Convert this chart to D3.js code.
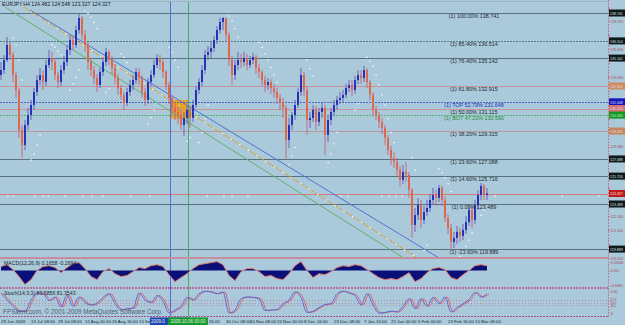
<!DOCTYPE html>
<html><head><meta charset="utf-8">
<script src="https://cdn.jsdelivr.net/npm/d3@7"></script>
<style>html,body{margin:0;padding:0;background:#aacadb;overflow:hidden}svg{display:block;font-family:"Liberation Sans",Arial,sans-serif}</style>
</head><body><svg id="c" width="625" height="325"></svg>
<script>
// ---------- DATA ----------
const symbolHeader = "EURJPY,H4  124.482 124.548 123.327 124.327";
const firstOpen = 133.79;
const closes = [134.19,134.99,136.19,135.39,133.79,132.59,129.40,128.20,129.80,130.60,
131.40,132.43,133.39,133.79,133.23,134.59,135.15,134.83,133.79,133.23,
134.19,134.83,135.79,136.59,136.19,137.38,138.34,136.99,136.19,134.83,
134.19,133.55,132.99,134.03,134.83,135.63,134.99,134.35,133.55,132.75,
132.20,131.56,132.43,132.99,133.39,134.03,133.55,132.43,131.80,133.23,
133.79,134.59,135.15,134.83,134.03,132.99,131.96,131.16,130.84,130.60,
129.80,130.36,131.00,130.36,131.40,132.59,133.23,134.19,135.39,135.63,
135.95,136.59,137.38,138.02,138.34,136.99,134.99,133.79,134.59,134.99,
134.83,135.15,134.59,134.99,135.23,134.35,134.03,133.39,132.99,133.23,
132.75,132.43,131.96,131.64,131.16,128.60,129.80,130.60,131.40,132.43,
133.79,132.59,130.20,130.36,131.00,130.04,130.84,131.16,129.00,130.20,
130.84,131.40,131.80,131.96,132.20,132.75,132.99,132.59,133.39,133.79,
133.55,134.19,133.23,132.20,131.00,130.60,130.04,129.56,128.76,127.80,
127.17,126.85,126.21,125.41,126.05,125.81,124.61,121.82,122.61,123.41,
122.21,122.85,123.17,123.81,124.21,123.97,124.77,123.81,122.37,121.58,
120.46,120.78,121.26,120.94,121.42,122.05,123.01,122.21,123.41,124.21,
124.93,124.21,124.327];
const highs = [134.83,135.39,136.83,136.43,135.63,134.03,132.75,129.80,130.20,131.16,
131.80,132.75,133.79,134.35,134.19,134.99,135.79,135.63,135.15,134.03,
134.59,135.31,136.19,136.99,136.91,137.70,138.66,138.50,137.38,136.43,
135.15,134.51,133.87,134.35,135.15,135.95,135.79,135.31,134.67,133.87,
132.99,132.43,132.75,133.39,133.79,134.35,134.35,133.79,132.75,133.55,
134.19,134.99,135.47,135.39,134.99,134.19,133.23,132.20,131.48,131.32,
131.00,130.84,131.32,131.40,131.80,132.91,133.55,134.59,135.79,136.11,
136.43,136.91,137.70,138.34,138.42,138.18,137.22,135.31,134.99,135.63,
135.47,135.63,135.47,135.31,135.55,135.39,134.67,134.19,133.71,133.55,
133.47,133.07,132.75,132.27,131.96,131.40,130.36,130.84,131.80,132.75,
134.35,134.03,132.91,130.84,131.40,131.32,131.16,131.64,131.40,130.60,
131.16,131.80,132.12,132.43,132.59,133.07,133.39,133.39,133.71,134.19,
134.19,134.51,134.35,133.39,132.43,131.32,130.84,130.36,129.80,129.00,
128.12,127.64,127.17,126.53,126.61,126.85,126.05,124.77,123.17,123.97,
123.81,123.33,123.81,124.29,124.77,124.61,125.01,124.93,124.13,122.69,
121.90,121.26,121.74,121.58,121.90,122.53,123.49,123.33,123.81,124.61,
125.17,125.09,124.77];
const lows = [133.39,133.87,134.83,134.99,133.23,131.96,128.76,127.17,127.80,129.40,
130.20,131.00,132.12,132.99,132.59,132.91,134.35,134.19,133.39,132.75,
132.91,133.87,134.51,135.39,135.79,135.95,137.07,136.59,135.63,134.19,
133.71,133.07,132.43,132.75,133.71,134.51,134.59,133.87,133.07,132.20,
131.80,131.00,131.32,132.12,132.59,133.07,132.99,131.96,131.32,131.48,
132.91,133.55,134.35,134.19,133.55,132.59,131.48,130.68,130.20,129.88,
129.40,128.92,129.88,129.56,130.04,131.16,132.27,132.91,133.87,134.99,
135.15,135.63,136.27,137.07,137.38,136.43,134.51,132.99,133.39,134.19,
134.35,134.51,134.19,134.35,134.67,133.87,133.55,132.91,132.43,132.59,
132.27,131.96,131.48,131.00,130.36,127.01,127.96,129.40,130.20,131.16,
132.12,132.12,129.00,129.56,130.04,129.40,129.72,130.36,127.40,128.44,
129.80,130.52,131.00,131.48,131.64,131.96,132.43,132.12,132.27,133.07,
133.07,133.23,132.75,131.80,130.52,130.20,129.56,129.08,128.20,127.40,
126.61,126.37,125.73,124.85,125.09,125.25,123.97,120.78,121.26,122.21,
121.58,121.90,122.53,122.85,123.41,123.33,123.65,123.33,122.05,121.10,
119.82,119.98,120.30,120.46,120.62,121.10,121.74,121.58,121.90,123.01,
123.81,123.81,123.81];

// Fibonacci levels
const fibNames = ["(1) 100.00%","(1) 85.40%","(1) 76.40%","(1) 61.80%","(1) TOP 52.79%","(1) 50.00%","(1) BOT 47.21%","(1) 38.20%","(1) 23.60%","(1) 14.60%","(1) 0.00%","(1) -23.60%"];
const fibPrices = [138.741,136.514,135.142,132.915,131.648,131.115,130.590,129.315,127.088,125.716,123.489,119.889];
const fibKinds = ["dark","darkDot","dark","rose","top","rose","bot","rose2","dark","dark","dark","dark"];
const currentPrice = 124.327;

// right price axis tick labels
const priceTicks = [139.18,138.07,136.96,135.85,134.74,133.63,132.52,131.41,130.30,129.19,128.08,126.97,125.86,124.75,123.64,122.53,121.42,120.31,119.20];

// time axis (partially hidden labels keep only their visible part)
const timeLabels = ["29 Jun 2009","13 Jul 08:00","28 Jul 08:00","12 Aug 00:00","26 Aug 16:00","10 Se","16:00","30 Oct 08:00","10 Nov 08:00","24 Nov 00:00","8 Dec 16:00","23 Dec 08:00","7 Jan 16:00","22 Jan 00:00","5 Feb 00:00","23 Feb 16:00","10 Mar 08:00"];
const timeIdx = [0,10,19,28,37,46,69.3,75,83,92,101,111,121,130,139,149,158];

// vertical lines (bar index) and their labels
const vLineIdx = [56.3,62.3];
const vLineLabels = ["2009.0","2009.10.06 00:00"];

// consolidation box
const boxIdx = [56.3,62.3];
const boxPrices = [131.80,130.30];

// trend lines (start/end in bar index & price)
const tlStartIdx = [1.33,7,9.67];
const tlStartVal = [139.22,139.30,138.98];
const tlEndIdx = [140,140,150];
const tlEndVal = [118.30,119.00,118.60];
const tlNames = ["green","orange","blue"];

// parabolic SAR style dots
const sarIdx = [4,5,6,7,10,11,12,13,17,18,19,20,23,24,25,26,28,29,30,31,32,35,36,40,41,42,49,50,51,56,57,58,59,62,63,66,67,68,69,76,77,78,79,86,87,88,89,90,91,92,96,97,98,102,103,104,109,110,111,112,118,119,122,123,124,125,126,127,128,129,130,131,137,138,141,142,146,147,148,149,150,153,154,155,156,157,160,161];
const sarVal = [136.75,136.19,134.99,133.39,127.01,127.50,128.20,129.00,136.20,136.00,135.70,135.40,132.60,133.10,133.60,134.20,138.90,138.70,138.40,138.00,137.50,132.40,132.70,135.50,135.20,134.80,129.90,130.40,131.00,136.00,135.60,135.00,134.40,128.50,128.80,128.40,129.20,130.30,131.40,138.50,138.10,137.50,136.80,136.40,136.00,135.50,135.00,134.40,133.80,133.20,126.60,127.30,128.00,135.00,134.30,133.70,126.80,127.50,128.30,129.20,131.00,131.50,135.20,134.90,134.50,133.80,133.00,132.20,131.40,130.30,129.20,128.40,127.20,126.20,119.80,120.20,126.30,126.00,125.60,125.10,124.50,119.30,119.70,120.10,120.60,121.20,122.60,123.00];
const dotRowIdx = [2.3,4,11.3,14,15.7,21.3,27.3,30.3,34,43.3,49.7,68.7,74.3,77,82.3,113.3,115.7,127,129.3,131.7,133.7,164.7,187,199.3];
const dotRowVal = 124.13;

// MACD (every 2nd bar)
const macdHeader = "MACD(12,26,9) 0.1658 -0.2694";
const macd = [0.20,0.29,0.05,-0.29,-0.68,-0.44,0.00,0.20,0.24,0.15,
-0.10,0.15,0.34,0.39,0.10,-0.29,-0.44,-0.05,0.10,-0.15,
-0.29,-0.24,-0.05,0.15,0.10,0.24,0.29,0.20,-0.20,-0.54,
-0.34,-0.15,0.10,0.29,0.34,0.39,0.44,0.29,-0.24,-0.49,
-0.05,0.10,0.10,-0.05,-0.29,-0.24,-0.39,-0.44,-0.15,0.24,
0.44,0.00,-0.34,-0.15,-0.20,-0.05,0.15,0.24,0.20,0.29,
0.24,0.05,-0.15,-0.34,-0.44,-0.39,-0.44,-0.29,-0.10,-0.54,
-0.39,-0.10,0.10,0.15,0.05,-0.34,-0.44,-0.20,0.00,0.24,
0.29,0.24];
const macdMax = 0.5666, macdMin = -0.8481;

// Stochastic (every 2nd bar)
const stochHeader = "Stoch(14,3,3) 83.5856 81.3543";
const stoch = [88,60,35,15,14,60,88,85,58,72,
32,80,35,72,50,40,48,70,85,45,
20,25,28,88,60,50,78,55,8,20,
35,70,60,85,95,92,85,92,8,20,
65,72,70,65,18,20,22,45,60,92,
70,10,15,30,42,45,85,95,88,78,
40,85,40,8,10,15,12,35,65,25,
65,35,70,45,72,12,30,45,62,90,
72,85];
const stochLevels = [61.8,50.0,38.2];
const copyright = "FPSilent.com, \u00a9 2001-2009 MetaQuotes Software Corp.";

// ---------- DRAW ----------
const svg = d3.select("#c");
const R = 608;
const mainTop = 2, mainBot = 258, macdTop = 259, macdBot = 288, stTop = 289, stBot = 316;
const AX_FS = "4.3px";
const col = {bg:"#aacadb", up:"#2434b8", down:"#e0684a", axisTxt:"#a24a5a", sep:"#c58d9e"};

const x = d3.scaleLinear().domain([0, closes.length-1]).range([1, 487]);
const y = d3.scaleLinear().domain([123.489, 138.741]).range([204, 13]);

function axText(sel, t, xx, yy, fill, fs){
  const el = sel.append("text").attr("x",xx).attr("y",yy).attr("font-size",fs||AX_FS).attr("fill",fill).text(t);
  if(t.length>=6) el.attr("textLength",12.8).attr("lengthAdjust","spacingAndGlyphs");
  return el;
}

svg.append("rect").attr("width",625).attr("height",325).attr("fill",col.bg);
const defs = svg.append("defs");
defs.append("clipPath").attr("id","mainClip").append("rect").attr("x",0).attr("y",mainTop).attr("width",R).attr("height",mainBot-mainTop);

svg.append("line").attr("x1",0).attr("x2",R).attr("y1",1.5).attr("y2",1.5).attr("stroke","#8c9aa6").attr("stroke-dasharray","1,1");

const main = svg.append("g").attr("clip-path","url(#mainClip)");

main.append("rect").attr("x",x(boxIdx[0])).attr("width",x(boxIdx[1])-x(boxIdx[0]))
  .attr("y",y(boxPrices[0])).attr("height",y(boxPrices[1])-y(boxPrices[0])).attr("fill","#e8a42a");

const fibStyle = {
  dark:{c:"#56727f",d:null}, darkDot:{c:"#4f7a7c",d:"2,1"}, rose:{c:"#c99499",d:null},
  rose2:{c:"#b99a9c",d:null}, top:{c:"#4c64c8",d:"2,1"}, bot:{c:"#5cb468",d:"2,1"}
};
fibPrices.forEach((p,i)=>{
  const s = fibStyle[fibKinds[i]];
  main.append("line").attr("x1",0).attr("x2",R).attr("y1",Math.round(y(p))+0.5).attr("y2",Math.round(y(p))+0.5)
    .attr("stroke",s.c).attr("stroke-width",1).attr("stroke-dasharray",s.d);
});
main.append("line").attr("x1",0).attr("x2",R).attr("y1",Math.round(y(currentPrice))+0.5).attr("y2",Math.round(y(currentPrice))+0.5)
  .attr("stroke","#d27a7a");

const vCols = ["#5070d0","#4ea85a"];
vLineIdx.forEach((v,i)=>{
  svg.append("line").attr("x1",Math.round(x(v))+0.5).attr("x2",Math.round(x(v))+0.5).attr("y1",mainTop).attr("y2",stBot)
    .attr("stroke",vCols[i]).attr("stroke-width",1);
});

const tlCols = {green:"#62b070", orange:"#e89a12", blue:"#5272d4"};
tlNames.forEach((n,i)=>{
  const l = main.append("line").attr("x1",x(tlStartIdx[i])).attr("y1",y(tlStartVal[i]))
    .attr("x2",x(tlEndIdx[i])).attr("y2",y(tlEndVal[i])).attr("stroke",tlCols[n]).attr("stroke-width",1);
  if(n==="orange"){
    l.attr("stroke-dasharray","3,1");
    main.append("line").attr("x1",x(tlStartIdx[i])).attr("y1",y(tlStartVal[i]))
      .attr("x2",x(tlEndIdx[i])).attr("y2",y(tlEndVal[i])).attr("stroke","#ffffff").attr("stroke-width",1.3)
      .attr("stroke-dasharray","1.3,9");
  }
});

const bars = closes.map((c,i)=>({i, o: i===0?firstOpen:closes[i-1], c, h:highs[i], l:lows[i]}));
const cg = main.append("g");
bars.forEach(b=>{
  const up = b.c >= b.o;
  const cx = x(b.i);
  cg.append("line").attr("x1",cx).attr("x2",cx).attr("y1",y(b.h)).attr("y2",y(b.l))
    .attr("stroke", up? "#6a58b0" : "#c4607e").attr("stroke-width",1).attr("opacity",0.9);
  const top = y(Math.max(b.o,b.c)), bot = y(Math.min(b.o,b.c));
  cg.append("rect").attr("x",cx-1).attr("width",2).attr("y",top).attr("height",Math.max(1,bot-top))
    .attr("fill", up? col.up : col.down);
});

main.selectAll(".sar").data(sarIdx).enter().append("rect").attr("class","sar")
  .attr("x",(d)=>x(d)-0.6).attr("y",(d,i)=>y(sarVal[i])-0.6).attr("width",1.3).attr("height",1.3).attr("fill","#ffffff");
main.selectAll(".drow").data(dotRowIdx).enter().append("rect").attr("class","drow")
  .attr("x",(d)=>x(d)-0.6).attr("y",y(dotRowVal)-0.6).attr("width",1.3).attr("height",1.3).attr("fill","#ffffff");

fibPrices.forEach((p,i)=>{
  const k = fibKinds[i];
  svg.append("text").attr("x",474).attr("y",y(p)+5).attr("text-anchor","middle")
    .attr("font-size","5.4px").attr("fill", k==="top"?"#1a30b0": k==="bot"?"#1f8a30":"#1c2630")
    .text(fibNames[i]+"  "+p.toFixed(3));
});

svg.append("text").attr("x",2).attr("y",6).attr("font-size","5.2px").attr("fill","#1a2430").text(symbolHeader);

svg.append("line").attr("x1",0).attr("x2",R).attr("y1",258).attr("y2",258).attr("stroke",col.sep).attr("stroke-width",2);
svg.append("line").attr("x1",0).attr("x2",R).attr("y1",288).attr("y2",288).attr("stroke","#b8709a").attr("stroke-width",2).attr("stroke-dasharray","2,1");
svg.append("line").attr("x1",0).attr("x2",R).attr("y1",316.5).attr("y2",316.5).attr("stroke","#a0508a").attr("stroke-dasharray","2,1");
svg.append("line").attr("x1",R+0.5).attr("x2",R+0.5).attr("y1",0).attr("y2",317).attr("stroke","#c07a90").attr("stroke-dasharray","2,1");

const boxLevels = fibPrices.concat([currentPrice]);
priceTicks.forEach(t=>{
  svg.append("line").attr("x1",R).attr("x2",R+2).attr("y1",Math.round(y(t))+0.5).attr("y2",Math.round(y(t))+0.5).attr("stroke","#c07a90");
  const hidden = boxLevels.some(b=>Math.abs(y(b)-y(t))<6.5);
  if(!hidden) axText(svg, t.toFixed(3), R+2.5, y(t)+1.8, col.axisTxt);
});
const boxCol = {dark:"#0e1a1a", darkDot:"#0e1a1a", rose:"#c87a64", rose2:"#c8845a", top:"#1414c0", bot:"#0f9a1e"};
const boxFill = fibPrices.map((p,i)=> (i===3? "#d08a5c" : i===5 ? "#d47272" : boxCol[fibKinds[i]]));
fibPrices.forEach((p,i)=>{
  svg.append("rect").attr("x",R+1).attr("y",y(p)-3.5).attr("width",16).attr("height",7).attr("fill",boxFill[i]);
  axText(svg, p.toFixed(3), R+2, y(p)+1.8, "#d8e0e0");
});
svg.append("rect").attr("x",R+1).attr("y",y(currentPrice)-3.5).attr("width",16).attr("height",7).attr("fill","#c01818");
axText(svg, currentPrice.toFixed(3), R+2, y(currentPrice)+1.8, "#ffe0e0");

// ---- MACD ----
const ym = d3.scaleLinear().domain([macdMin, macdMax]).range([macdBot, macdTop]);
const mx = (d,i)=> x(i*2);
svg.append("path").datum(macd).attr("d", d3.area().x(mx).y0(ym(0)).y1(d=>ym(d))).attr("fill","#0a0f7a");
svg.append("path").datum(macd).attr("d", d3.line().x(mx).y(d=>ym(d))).attr("fill","none").attr("stroke","#e07a6a").attr("stroke-width",1);
svg.append("text").attr("x",4).attr("y",264.5).attr("font-size","5.2px").attr("fill","#1c2630").text(macdHeader);
[[macdMax,macdMax.toFixed(4),4.5],[0,"0.00",1.8],[macdMin,macdMin.toFixed(4),-1.5]].forEach(([v,t,dy])=>{
  axText(svg, t, R+2.5, ym(v)+dy, col.axisTxt);
});

// ---- Stochastic ----
const ys = d3.scaleLinear().domain([0,100]).range([stBot-1, stTop+1]);
stochLevels.forEach(l=>{
  svg.append("line").attr("x1",0).attr("x2",R).attr("y1",Math.round(ys(l))+0.5).attr("y2",Math.round(ys(l))+0.5)
    .attr("stroke","#b88aa8").attr("stroke-dasharray","1,2");
});
const sl = d3.line().x(mx).y(d=>ys(d)).curve(d3.curveMonotoneX);
svg.append("path").datum(stoch).attr("d",sl).attr("fill","none").attr("stroke","#e0606a").attr("stroke-width",1).attr("transform","translate(2,0)");
svg.append("path").datum(stoch).attr("d",sl).attr("fill","none").attr("stroke","#5a6ad8").attr("stroke-width",1);
svg.append("text").attr("x",4).attr("y",294.5).attr("font-size","5.2px").attr("fill","#1c2630").text(stochHeader);
svg.append("text").attr("x",3).attr("y",314).attr("font-size","6.4px").attr("fill","#4e6070").text(copyright);
axText(svg, "100", R+2.5, ys(100)+3, col.axisTxt);
axText(svg, "0", R+2.5, ys(0), col.axisTxt);
stochLevels.forEach(l=>{
  axText(svg, l.toFixed(1), R+2.5, ys(l)+1.1, col.axisTxt, "3.1px");
});

// ---- time axis ----
timeLabels.forEach((t,i)=>{
  svg.append("text").attr("x",x(timeIdx[i])).attr("y",323).attr("font-size","4.4px").attr("fill","#1a2430").text(t);
});
const vBox = ["#2044b4","#149a2a"];
vLineIdx.forEach((v,i)=>{
  const cx = x(v);
  svg.append("rect").attr("x",cx-20).attr("y",317.5).attr("width",40).attr("height",7.5).attr("fill",vBox[i]);
  svg.append("text").attr("x", i===0 ? cx-19 : cx).attr("y",323).attr("text-anchor", i===0?"start":"middle")
    .attr("font-size","4.5px").attr("fill","#e8f0e8").text(vLineLabels[i]);
});
</script></body></html>
